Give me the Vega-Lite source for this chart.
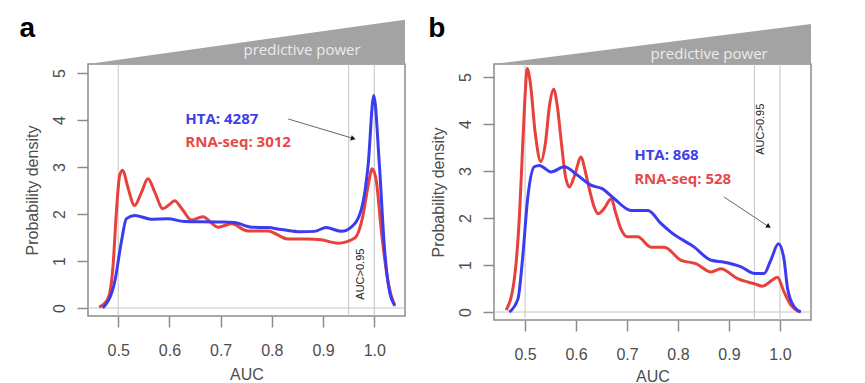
{
  "$schema": "https://vega.github.io/schema/vega-lite/v6.json",
  "background": "white",
  "padding": {"left": 18, "top": 13, "right": 0, "bottom": 0},
  "bounds": "flush",
  "spacing": 89,
  "config": {
    "view": {"stroke": "#8c8c8c", "strokeWidth": 1.5},
    "axis": {"domain": false, "grid": false, "tickColor": "#8c8c8c", "tickWidth": 1.5, "tickSize": 11,
      "labelFont": "Liberation Sans", "labelFontSize": 16, "labelColor": "#4d4d4d",
      "titleFont": "Liberation Sans", "titleFontSize": 16, "titleColor": "#4d4d4d", "titleFontWeight": "normal"}
  },
  "datasets": {
    "a_red": [
      {"auc":0.463,"d":0.02},{"auc":0.480,"d":0.2},{"auc":0.490,"d":0.91},{"auc":0.496,"d":1.97},{"auc":0.503,"d":2.83},{"auc":0.509,"d":2.93},{"auc":0.518,"d":2.6},{"auc":0.532,"d":2.18},{"auc":0.545,"d":2.45},{"auc":0.558,"d":2.75},{"auc":0.572,"d":2.45},{"auc":0.587,"d":2.11},{"auc":0.600,"d":2.2},{"auc":0.610,"d":2.28},{"auc":0.625,"d":2.1},{"auc":0.643,"d":1.87},{"auc":0.665,"d":1.94},{"auc":0.695,"d":1.72},{"auc":0.721,"d":1.79},{"auc":0.753,"d":1.64},{"auc":0.792,"d":1.64},{"auc":0.831,"d":1.47},{"auc":0.870,"d":1.47},{"auc":0.896,"d":1.45},{"auc":0.929,"d":1.38},{"auc":0.962,"d":1.49},{"auc":0.978,"d":1.97},{"auc":0.988,"d":2.6},{"auc":0.996,"d":2.96},{"auc":1.004,"d":2.7},{"auc":1.014,"d":1.62},{"auc":1.027,"d":0.55},{"auc":1.040,"d":0.04}
    ],
    "a_blue": [
      {"auc":0.470,"d":0.0},{"auc":0.493,"d":0.55},{"auc":0.506,"d":1.40},{"auc":0.516,"d":1.90},{"auc":0.532,"d":1.97},{"auc":0.564,"d":1.89},{"auc":0.597,"d":1.90},{"auc":0.629,"d":1.84},{"auc":0.695,"d":1.83},{"auc":0.727,"d":1.82},{"auc":0.760,"d":1.72},{"auc":0.792,"d":1.71},{"auc":0.818,"d":1.67},{"auc":0.857,"d":1.62},{"auc":0.883,"d":1.63},{"auc":0.906,"d":1.71},{"auc":0.936,"d":1.63},{"auc":0.955,"d":1.72},{"auc":0.975,"d":2.11},{"auc":0.988,"d":3.04},{"auc":0.999,"d":4.52},{"auc":1.010,"d":3.04},{"auc":1.020,"d":1.26},{"auc":1.030,"d":0.34},{"auc":1.040,"d":0.06}
    ],
    "b_red": [
      {"auc":0.463,"d":0.04},{"auc":0.479,"d":0.71},{"auc":0.489,"d":2.06},{"auc":0.495,"d":3.47},{"auc":0.500,"d":4.6},{"auc":0.504,"d":5.18},{"auc":0.510,"d":4.9},{"auc":0.520,"d":3.8},{"auc":0.531,"d":3.2},{"auc":0.540,"d":3.6},{"auc":0.548,"d":4.4},{"auc":0.556,"d":4.74},{"auc":0.563,"d":4.4},{"auc":0.571,"d":3.62},{"auc":0.579,"d":2.9},{"auc":0.587,"d":2.66},{"auc":0.597,"d":2.9},{"auc":0.610,"d":3.30},{"auc":0.618,"d":3.0},{"auc":0.626,"d":2.62},{"auc":0.635,"d":2.25},{"auc":0.643,"d":2.09},{"auc":0.655,"d":2.2},{"auc":0.669,"d":2.41},{"auc":0.678,"d":2.1},{"auc":0.688,"d":1.77},{"auc":0.701,"d":1.60},{"auc":0.721,"d":1.60},{"auc":0.747,"d":1.38},{"auc":0.773,"d":1.38},{"auc":0.806,"d":1.10},{"auc":0.835,"d":1.03},{"auc":0.865,"d":0.85},{"auc":0.884,"d":0.92},{"auc":0.917,"d":0.71},{"auc":0.950,"d":0.60},{"auc":0.966,"d":0.55},{"auc":0.985,"d":0.68},{"auc":0.995,"d":0.74},{"auc":1.008,"d":0.43},{"auc":1.022,"d":0.14},{"auc":1.038,"d":0.0}
    ],
    "b_blue": [
      {"auc":0.469,"d":0.0},{"auc":0.486,"d":0.28},{"auc":0.495,"d":1.13},{"auc":0.505,"d":2.41},{"auc":0.518,"d":3.09},{"auc":0.528,"d":3.12},{"auc":0.551,"d":2.98},{"auc":0.577,"d":3.09},{"auc":0.603,"d":2.91},{"auc":0.629,"d":2.70},{"auc":0.652,"d":2.62},{"auc":0.675,"d":2.41},{"auc":0.708,"d":2.16},{"auc":0.741,"d":2.16},{"auc":0.767,"d":1.88},{"auc":0.786,"d":1.70},{"auc":0.832,"d":1.38},{"auc":0.865,"d":1.10},{"auc":0.891,"d":1.06},{"auc":0.924,"d":0.96},{"auc":0.950,"d":0.82},{"auc":0.969,"d":0.82},{"auc":0.982,"d":1.10},{"auc":0.997,"d":1.45},{"auc":1.008,"d":1.13},{"auc":1.015,"d":0.50},{"auc":1.028,"d":0.11},{"auc":1.041,"d":0.0}
    ]
  },
  "hconcat": [
    {
      "width": 317, "height": 252,
      "layer": [
        {
          "data": {"values": [{"auc":0.441,"d":5.19,"d2":5.19},{"auc":1.06,"d":5.19,"d2":6.13}]},
          "mark": {"type": "area", "color": "#a3a3a3", "clip": false},
          "encoding": {
            "x": {"field":"auc","type":"quantitative","title":"AUC","scale":{"domain":[0.441,1.06],"nice":false,"zero":false},"axis":{"values":[0.5,0.6,0.7,0.8,0.9,1.0],"format":".1f","labelPadding":15,"titlePadding":8}},
            "y": {"field":"d","type":"quantitative","title":"Probability density","scale":{"domain":[-0.17,5.19],"nice":false,"zero":false},"axis":{"values":[0,1,2,3,4,5],"labelAngle":-90,"labelAlign":"center","labelBaseline":"bottom","labelPadding":10,"titlePadding":11}},
            "y2": {"field":"d2"}
          }
        },
        {
          "data": {"values": [{"auc":0.859,"d":5.49,"t":"predictive power"}]},
          "mark": {"type":"text","font":"Open Sans","fontSize":15,"color":"#ececec","align":"center","baseline":"middle","clip":false},
          "encoding": {"x":{"field":"auc","type":"quantitative","title":"AUC"},"y":{"field":"d","type":"quantitative","title":"Probability density"},"text":{"field":"t"}}
        },
        {
          "data": {"values": [{"auc":0.307,"d":5.77,"t":"a"}]},
          "mark": {"type":"text","font":"Liberation Sans","fontSize":28,"fontWeight":"bold","color":"#000000","align":"left","baseline":"alphabetic","clip":false},
          "encoding": {"x":{"field":"auc","type":"quantitative","title":"AUC"},"y":{"field":"d","type":"quantitative","title":"Probability density"},"text":{"field":"t"}}
        },
        {
          "data": {"values": [{"auc":0.5},{"auc":0.95},{"auc":1.0}]},
          "mark": {"type":"rule","color":"#c4c4c4","strokeWidth":1},
          "encoding": {"x":{"field":"auc","type":"quantitative","title":"AUC"}}
        },
        {
          "data": {"values": [{"d":0}]},
          "mark": {"type":"rule","color":"#c4c4c4","strokeWidth":1},
          "encoding": {"y":{"field":"d","type":"quantitative","title":"Probability density"}}
        },
        {
          "data": {"name": "a_red"},
          "mark": {"type":"line","color":"#e8413b","strokeWidth":3,"interpolate":"monotone"},
          "encoding": {"x":{"field":"auc","type":"quantitative","title":"AUC"},"y":{"field":"d","type":"quantitative","title":"Probability density"}}
        },
        {
          "data": {"name": "a_blue"},
          "mark": {"type":"line","color":"#3b3bf0","strokeWidth":3,"interpolate":"monotone"},
          "encoding": {"x":{"field":"auc","type":"quantitative","title":"AUC"},"y":{"field":"d","type":"quantitative","title":"Probability density"}}
        },
        {
          "data": {"values": [{"auc":0.631,"d":4.02,"t":"HTA: 4287"}]},
          "mark": {"type":"text","font":"Open Sans","fontWeight":"bold","fontSize":15,"color":"#4040e6","align":"left","baseline":"middle"},
          "encoding": {"x":{"field":"auc","type":"quantitative","title":"AUC"},"y":{"field":"d","type":"quantitative","title":"Probability density"},"text":{"field":"t"}}
        },
        {
          "data": {"values": [{"auc":0.631,"d":3.53,"t":"RNA-seq: 3012"}]},
          "mark": {"type":"text","font":"Open Sans","fontWeight":"bold","fontSize":15,"color":"#e84848","align":"left","baseline":"middle"},
          "encoding": {"x":{"field":"auc","type":"quantitative","title":"AUC"},"y":{"field":"d","type":"quantitative","title":"Probability density"},"text":{"field":"t"}}
        },
        {
          "data": {"values": [{"auc":0.832,"d":4.02,"auc2":0.958,"d2":3.61}]},
          "mark": {"type":"rule","color":"#666666","strokeWidth":1},
          "encoding": {"x":{"field":"auc","type":"quantitative","title":"AUC"},"y":{"field":"d","type":"quantitative","title":"Probability density"},"x2":{"field":"auc2"},"y2":{"field":"d2"}}
        },
        {
          "data": {"values": [{"auc":0.959,"d":3.605}]},
          "mark": {"type":"point","shape":"triangle-right","filled":true,"color":"#111111","size":30,"angle":17,"opacity":1},
          "encoding": {"x":{"field":"auc","type":"quantitative","title":"AUC"},"y":{"field":"d","type":"quantitative","title":"Probability density"}}
        },
        {
          "data": {"values": [{"auc":0.975,"d":0.72,"t":"AUC>0.95"}]},
          "mark": {"type":"text","font":"Liberation Sans","fontSize":11,"color":"#222222","angle":270,"align":"center","baseline":"middle"},
          "encoding": {"x":{"field":"auc","type":"quantitative","title":"AUC"},"y":{"field":"d","type":"quantitative","title":"Probability density"},"text":{"field":"t"}}
        }
      ]
    },
    {
      "width": 317, "height": 256,
      "layer": [
        {
          "data": {"values": [{"auc":0.439,"d":5.277,"d2":5.277},{"auc":1.061,"d":5.277,"d2":6.128}]},
          "mark": {"type": "area", "color": "#a3a3a3", "clip": false},
          "encoding": {
            "x": {"field":"auc","type":"quantitative","title":"AUC","scale":{"domain":[0.439,1.061],"nice":false,"zero":false},"axis":{"values":[0.5,0.6,0.7,0.8,0.9,1.0],"format":".1f","labelPadding":15,"titlePadding":6}},
            "y": {"field":"d","type":"quantitative","title":"Probability density","scale":{"domain":[-0.17,5.277],"nice":false,"zero":false},"axis":{"values":[0,1,2,3,4,5],"labelAngle":-90,"labelAlign":"center","labelBaseline":"bottom","labelPadding":10,"titlePadding":11}},
            "y2": {"field":"d2"}
          }
        },
        {
          "data": {"values": [{"auc":0.861,"d":5.49,"t":"predictive power"}]},
          "mark": {"type":"text","font":"Open Sans","fontSize":15,"color":"#ececec","align":"center","baseline":"middle","clip":false},
          "encoding": {"x":{"field":"auc","type":"quantitative","title":"AUC"},"y":{"field":"d","type":"quantitative","title":"Probability density"},"text":{"field":"t"}}
        },
        {
          "data": {"values": [{"auc":0.310,"d":5.85,"t":"b"}]},
          "mark": {"type":"text","font":"Liberation Sans","fontSize":28,"fontWeight":"bold","color":"#000000","align":"left","baseline":"alphabetic","clip":false},
          "encoding": {"x":{"field":"auc","type":"quantitative","title":"AUC"},"y":{"field":"d","type":"quantitative","title":"Probability density"},"text":{"field":"t"}}
        },
        {
          "data": {"values": [{"auc":0.5},{"auc":0.95},{"auc":1.0}]},
          "mark": {"type":"rule","color":"#c4c4c4","strokeWidth":1},
          "encoding": {"x":{"field":"auc","type":"quantitative","title":"AUC"}}
        },
        {
          "data": {"values": [{"d":0}]},
          "mark": {"type":"rule","color":"#c4c4c4","strokeWidth":1},
          "encoding": {"y":{"field":"d","type":"quantitative","title":"Probability density"}}
        },
        {
          "data": {"name": "b_red"},
          "mark": {"type":"line","color":"#e8413b","strokeWidth":3,"interpolate":"monotone"},
          "encoding": {"x":{"field":"auc","type":"quantitative","title":"AUC"},"y":{"field":"d","type":"quantitative","title":"Probability density"}}
        },
        {
          "data": {"name": "b_blue"},
          "mark": {"type":"line","color":"#3b3bf0","strokeWidth":3,"interpolate":"monotone"},
          "encoding": {"x":{"field":"auc","type":"quantitative","title":"AUC"},"y":{"field":"d","type":"quantitative","title":"Probability density"}}
        },
        {
          "data": {"values": [{"auc":0.714,"d":3.34,"t":"HTA: 868"}]},
          "mark": {"type":"text","font":"Open Sans","fontWeight":"bold","fontSize":15,"color":"#4040e6","align":"left","baseline":"middle"},
          "encoding": {"x":{"field":"auc","type":"quantitative","title":"AUC"},"y":{"field":"d","type":"quantitative","title":"Probability density"},"text":{"field":"t"}}
        },
        {
          "data": {"values": [{"auc":0.714,"d":2.83,"t":"RNA-seq: 528"}]},
          "mark": {"type":"text","font":"Open Sans","fontWeight":"bold","fontSize":15,"color":"#e84848","align":"left","baseline":"middle"},
          "encoding": {"x":{"field":"auc","type":"quantitative","title":"AUC"},"y":{"field":"d","type":"quantitative","title":"Probability density"},"text":{"field":"t"}}
        },
        {
          "data": {"values": [{"auc":0.890,"d":2.45,"auc2":0.976,"d2":1.83}]},
          "mark": {"type":"rule","color":"#666666","strokeWidth":1},
          "encoding": {"x":{"field":"auc","type":"quantitative","title":"AUC"},"y":{"field":"d","type":"quantitative","title":"Probability density"},"x2":{"field":"auc2"},"y2":{"field":"d2"}}
        },
        {
          "data": {"values": [{"auc":0.978,"d":1.82}]},
          "mark": {"type":"point","shape":"triangle-right","filled":true,"color":"#111111","size":30,"angle":34,"opacity":1},
          "encoding": {"x":{"field":"auc","type":"quantitative","title":"AUC"},"y":{"field":"d","type":"quantitative","title":"Probability density"}}
        },
        {
          "data": {"values": [{"auc":0.963,"d":3.89,"t":"AUC>0.95"}]},
          "mark": {"type":"text","font":"Liberation Sans","fontSize":11,"color":"#222222","angle":270,"align":"center","baseline":"middle"},
          "encoding": {"x":{"field":"auc","type":"quantitative","title":"AUC"},"y":{"field":"d","type":"quantitative","title":"Probability density"},"text":{"field":"t"}}
        }
      ]
    }
  ]
}
